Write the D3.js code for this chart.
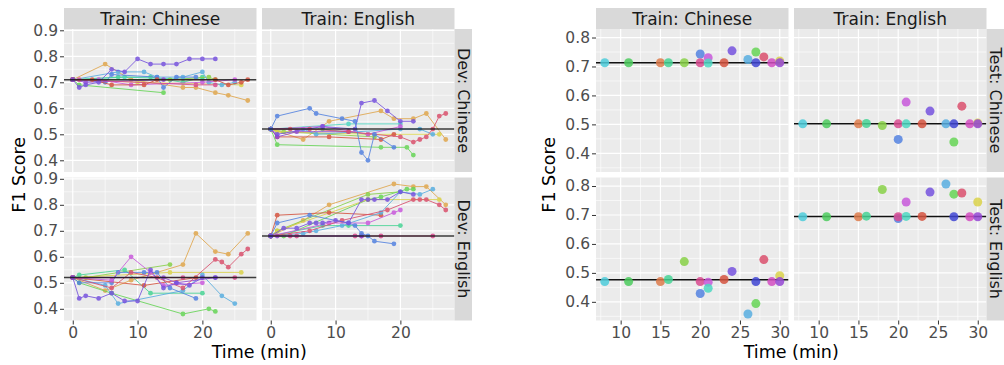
<!DOCTYPE html>
<html>
<head>
<meta charset="utf-8">
<script src="https://cdn.jsdelivr.net/npm/d3@7"></script>
<style>
  html, body { margin: 0; padding: 0; background: #fff; }
  svg { display: block; }
</style>
</head>
<body>
<svg id="chart" width="1004" height="365"></svg>
<script>
// ---- data ----
// participant ids, in drawing order (right-hand plot)
const participants = ['cyan', 'green', 'orange', 'mint', 'lime', 'blue', 'pink', 'orchid', 'teal',
  'red', 'purple', 'sky', 'green2', 'navy', 'crimson', 'magenta', 'yellow', 'violet'];
const totalTime = [8, 11, 15, 16, 18, 20, 20, 21, 21, 23, 24, 26, 27, 27, 28, 29, 30, 30];

// test F1 per participant
const testZhTrainZh = [.713, .713, .713, .713, .713, .743, .713, .730, .712, .713, .754, .724, .750, .713, .733, .713, .719, .713];
const testZhTrainEn = [.502, .502, .502, .503, .496, .448, .502, .577, .502, .502, .546, .502, .439, .502, .563, .502, .505, .502];
const testEnTrainZh = [.470, .470, .470, .477, .539, .429, .470, .468, .447, .477, .505, .358, .394, .470, .546, .470, .490, .470];
const testEnTrainEn = [.694, .694, .694, .696, .788, .688, .694, .745, .695, .695, .779, .807, .772, .694, .776, .694, .745, .694];
const testBaseline = [[0.713, 0.502], [0.476, 0.695]];

// dev F1 over time (min), one line per participant
const devZhTrainZh = [
  ['amber',   [[0, .71], [5, .77], [9, .71], [17, .68], [19, .68], [22, .66], [24, .65], [27, .63]]],
  ['green2',  [[0, .71], [1, .69], [14, .66]]],
  ['teal',    [[0, .71], [8, .72], [20, .71]]],
  ['mint',    [[0, .71], [7, .72], [12, .72], [17, .70], [20, .72]]],
  ['lime',    [[0, .71], [15, .71], [21, .72], [22, .71]]],
  ['yellow',  [[0, .71], [10, .70], [26, .69]]],
  ['sky',     [[0, .71], [7, .74], [11, .74], [13, .72], [17, .72], [20, .74], [21, .70], [23, .69], [25, .70]]],
  ['blue',    [[0, .71], [5, .70], [6, .73], [13, .72], [14, .68], [16, .72], [19, .72]]],
  ['violet',  [[0, .71], [2, .70], [14, .71]]],
  ['orchid',  [[0, .71], [4, .71], [9, .69], [20, .70], [25, .71]]],
  ['pink',    [[0, .71], [1, .71], [19, .69], [22, .69]]],
  ['red',     [[0, .71], [3, .71], [6, .69], [11, .69], [13, .71], [22, .71], [24, .69], [26, .70], [27, .71]]],
  ['purple',  [[0, .71], [1, .68], [2, .69], [4, .70], [6, .75], [8, .74], [10, .79], [12, .77], [14, .77], [16, .77], [18, .79], [20, .79], [22, .79]]]
];
const devZhTrainEn = [
  ['amber',   [[0, .52], [5, .48], [9, .55], [17, .59], [19, .56], [22, .56], [24, .58], [27, .48]]],
  ['green2',  [[0, .52], [1, .46], [17, .45], [21, .45], [22, .42]]],
  ['teal',    [[0, .52], [12, .54], [20, .54]]],
  ['mint',    [[0, .52], [8, .52], [15, .50]]],
  ['lime',    [[0, .52], [2, .51], [16, .49]]],
  ['yellow',  [[0, .52], [1, .51], [15, .50], [26, .50]]],
  ['sky',     [[0, .52], [5, .52], [7, .50], [20, .52], [23, .52], [25, .50]]],
  ['red',     [[0, .52], [1, .49], [9, .49], [17, .48], [19, .50]]],
  ['violet',  [[0, .52], [1, .49], [4, .51], [12, .51]]],
  ['orchid',  [[0, .52], [8, .53], [15, .50], [20, .53]]],
  ['crimson', [[0, .52], [3, .52], [6, .52], [12, .51], [20, .49], [22, .47], [23, .48], [24, .49], [25, .52], [26, .57], [27, .58]]],
  ['purple',  [[0, .52], [1, .50], [8, .53], [13, .52], [14, .62], [16, .63], [18, .59], [20, .55], [22, .55]]],
  ['blue',    [[0, .52], [1, .57], [6, .60], [7, .58], [11, .56], [13, .55], [14, .43], [15, .40], [16, .50], [19, .45]]]
];
const devEnTrainZh = [
  ['amber',   [[0, .52], [5, .47], [9, .51], [17, .57], [19, .69], [22, .62], [24, .61], [27, .69]]],
  ['green2',  [[0, .52], [1, .50], [6, .46], [17, .38], [21, .40], [22, .39]]],
  ['lime',    [[0, .52], [2, .52], [15, .57]]],
  ['mint',    [[0, .52], [1, .53], [8, .55], [12, .46], [20, .46]]],
  ['yellow',  [[0, .52], [15, .54], [26, .54]]],
  ['sky',     [[0, .52], [5, .49], [7, .42], [17, .47], [20, .53], [23, .45], [25, .42]]],
  ['blue',    [[0, .52], [1, .50], [6, .50], [7, .54], [11, .54], [13, .54], [15, .48], [19, .44]]],
  ['red',     [[0, .52], [11, .49], [19, .52]]],
  ['orchid',  [[0, .52], [6, .51], [9, .60], [12, .54], [14, .49], [20, .50]]],
  ['pink',    [[0, .52], [17, .52], [25, .52]]],
  ['violet',  [[0, .52], [14, .52], [16, .50], [22, .52]]],
  ['crimson', [[0, .52], [6, .48], [9, .54], [13, .52], [17, .48], [22, .59], [23, .58], [24, .56], [26, .61], [27, .63]]],
  ['purple',  [[0, .52], [1, .44], [2, .45], [4, .44], [6, .46], [8, .43], [10, .43], [12, .55], [14, .48], [16, .50], [18, .49], [20, .52], [22, .52]]]
];
const devEnTrainEn = [
  ['amber',   [[0, .68], [5, .74], [9, .80], [19, .88], [22, .87], [24, .87], [27, .80]]],
  ['lime',    [[0, .68], [1, .70], [15, .84], [20, .85]]],
  ['green2',  [[0, .68], [2, .68], [15, .82], [17, .83], [21, .86], [22, .86]]],
  ['yellow',  [[0, .68], [1, .70], [15, .82], [26, .82]]],
  ['red',     [[0, .68], [1, .76], [9, .77], [17, .76]]],
  ['mint',    [[0, .68], [8, .72], [12, .72], [20, .72]]],
  ['sky',     [[0, .68], [5, .69], [7, .70], [11, .72], [17, .77], [20, .85], [23, .84], [25, .86]]],
  ['orchid',  [[0, .68], [9, .73], [15, .73], [19, .77], [20, .78]]],
  ['pink',    [[0, .68], [3, .68], [4, .68], [13, .68], [14, .68], [17, .68], [25, .68]]],
  ['violet',  [[0, .68], [1, .68], [14, .68]]],
  ['crimson', [[0, .68], [6, .70], [11, .74], [18, .78], [22, .82], [23, .82], [24, .82], [26, .80], [27, .78]]],
  ['blue',    [[0, .68], [1, .73], [6, .76], [12, .73], [13, .72], [14, .69], [15, .68], [16, .66], [19, .65]]],
  ['purple',  [[0, .68], [2, .71], [4, .71], [6, .73], [7, .73], [8, .73], [10, .74], [12, .73], [14, .82], [15, .82], [16, .82], [18, .82], [20, .85], [22, .84]]]
];
const devBaseline = [[0.71, 0.52], [0.52, 0.68]];

const trainLabels = ['Train: Chinese', 'Train: English'];
const devLabels = ['Dev: Chinese', 'Dev: English'];
const testLabels = ['Test: Chinese', 'Test: English'];
const devTicksX = [0, 10, 20];
const devTicksY = [0.4, 0.5, 0.6, 0.7, 0.8, 0.9];
const testTicksX = [10, 15, 20, 25, 30];
const testTicksY = [0.4, 0.5, 0.6, 0.7, 0.8];

// ---- styling ----
const COLORS = {
  cyan: '#4DCCDB', green: '#4CCB5E', orange: '#DD7B4B', mint: '#47D495', lime: '#88D148',
  blue: '#5382E0', pink: '#D84A8F', orchid: '#C858DB', teal: '#4ED8C2', red: '#D5533F',
  purple: '#7652DE', sky: '#58AEE0', green2: '#66D556', navy: '#4147D4', crimson: '#DA506D',
  magenta: '#D34DC2', yellow: '#DAD24A', violet: '#9447D3', amber: '#E0A64C'
};
const FONT = '"DejaVu Sans", Verdana, sans-serif';
const PANEL_W = 192.5, PANEL_H = 143, GAP = 5.5, STRIP = 21, STRIP_R = 17.5;

const svg = d3.select('#chart');
let clipId = 0;

// ggplot-style range expansion (5% each side)
function expand(ext) {
  const pad = (ext[1] - ext[0]) * 0.05;
  return [ext[0] - pad, ext[1] + pad];
}
function midpoints(ticks) {
  const step = ticks[1] - ticks[0];
  return [ticks[0] - step / 2].concat(ticks.map(t => t + step / 2));
}

function facetGrid(o) {
  const x = d3.scaleLinear().domain(o.xDom).range([0, PANEL_W]);
  const y = d3.scaleLinear().domain(o.yDom).range([PANEL_H, 0]);
  const inX = v => v >= o.xDom[0] && v <= o.xDom[1];
  const inY = v => v >= o.yDom[0] && v <= o.yDom[1];
  const g = svg.append('g');

  for (let r = 0; r < 2; r++) {
    for (let c = 0; c < 2; c++) {
      const px = o.left + c * (PANEL_W + GAP);
      const py = o.top + r * (PANEL_H + GAP);
      const p = g.append('g').attr('transform', `translate(${px},${py})`);

      p.append('rect').attr('width', PANEL_W).attr('height', PANEL_H).attr('fill', '#EBEBEB');

      // grid
      const grid = p.append('g').attr('stroke', '#fff').attr('fill', 'none');
      midpoints(o.xTicks).filter(inX).forEach(v => grid.append('line')
        .attr('x1', x(v)).attr('x2', x(v)).attr('y1', 0).attr('y2', PANEL_H).attr('stroke-width', 0.6));
      midpoints(o.yTicks).filter(inY).forEach(v => grid.append('line')
        .attr('x1', 0).attr('x2', PANEL_W).attr('y1', y(v)).attr('y2', y(v)).attr('stroke-width', 0.6));
      o.xTicks.filter(inX).forEach(v => grid.append('line')
        .attr('x1', x(v)).attr('x2', x(v)).attr('y1', 0).attr('y2', PANEL_H).attr('stroke-width', 1.2));
      o.yTicks.filter(inY).forEach(v => grid.append('line')
        .attr('x1', 0).attr('x2', PANEL_W).attr('y1', y(v)).attr('y2', y(v)).attr('stroke-width', 1.2));

      const id = 'clip' + (clipId++);
      p.append('clipPath').attr('id', id).append('rect').attr('width', PANEL_W).attr('height', PANEL_H);
      const layer = p.append('g').attr('clip-path', `url(#${id})`);
      o.draw(layer, r, c, x, y);

      // axes
      if (c === 0) {
        const ax = p.append('g').call(d3.axisLeft(y).tickValues(o.yTicks).tickSize(4).tickPadding(2).tickFormat(d3.format('.1f')));
        styleAxis(ax);
      }
      if (r === 1) {
        const ax = p.append('g').attr('transform', `translate(0,${PANEL_H})`)
          .call(d3.axisBottom(x).tickValues(o.xTicks).tickSize(4).tickPadding(2).tickFormat(d3.format('d')));
        styleAxis(ax);
      }

      // strips
      if (r === 0) {
        p.append('rect').attr('y', -STRIP).attr('width', PANEL_W).attr('height', STRIP).attr('fill', '#D9D9D9');
        p.append('text').attr('x', PANEL_W / 2).attr('y', -STRIP / 2).attr('dy', '0.36em')
          .attr('text-anchor', 'middle').attr('fill', '#1A1A1A')
          .style('font', `17px ${FONT}`).text(o.colLabels[c]);
      }
      if (c === 1) {
        p.append('rect').attr('x', PANEL_W).attr('width', STRIP_R).attr('height', PANEL_H).attr('fill', '#D9D9D9');
        p.append('text').attr('transform', `translate(${PANEL_W + STRIP_R / 2},${PANEL_H / 2}) rotate(90)`)
          .attr('dy', '0.35em').attr('text-anchor', 'middle').attr('fill', '#1A1A1A')
          .style('font', `16px ${FONT}`).text(o.rowLabels[r]);
      }
    }
  }

  const midX = o.left + PANEL_W + GAP / 2;
  const midY = o.top + PANEL_H + GAP / 2;
  g.append('text').attr('x', midX).attr('y', 358).attr('text-anchor', 'middle')
    .attr('fill', '#000').style('font', `17.5px ${FONT}`).text(o.xTitle);
  g.append('text').attr('transform', `translate(${o.yTitleX},${midY}) rotate(-90)`)
    .attr('text-anchor', 'middle').attr('fill', '#000').style('font', `17.5px ${FONT}`).text(o.yTitle);
}

function styleAxis(ax) {
  ax.select('.domain').remove();
  ax.selectAll('.tick line').attr('stroke', '#333').attr('stroke-width', 1);
  ax.selectAll('.tick text').attr('fill', '#4D4D4D').style('font', `15.5px ${FONT}`);
}

// ---- left: dev F1 over time ----
const devPanels = [[devZhTrainZh, devZhTrainEn], [devEnTrainZh, devEnTrainEn]];
const devAll = devPanels.flat().flatMap(s => s.flatMap(d => d[1]));

facetGrid({
  left: 64, top: 29,
  xDom: expand(d3.extent(devAll, d => d[0])),
  yDom: expand(d3.extent(devAll, d => d[1])),
  xTicks: devTicksX, yTicks: devTicksY,
  colLabels: trainLabels, rowLabels: devLabels,
  xTitle: 'Time (min)', yTitle: 'F1 Score', yTitleX: 25,
  draw(layer, r, c, x, y) {
    const line = d3.line().x(d => x(d[0])).y(d => y(d[1]));
    devPanels[r][c].forEach(([name, pts]) => {
      const s = layer.append('g').attr('opacity', 0.85);
      s.append('path').attr('d', line(pts)).attr('fill', 'none')
        .attr('stroke', COLORS[name]).attr('stroke-width', 1);
      s.selectAll('circle').data(pts).join('circle')
        .attr('cx', d => x(d[0])).attr('cy', d => y(d[1])).attr('r', 2.4)
        .attr('fill', COLORS[name]);
    });
    layer.append('line').attr('x1', 0).attr('x2', PANEL_W)
      .attr('y1', y(devBaseline[r][c])).attr('y2', y(devBaseline[r][c]))
      .attr('stroke', '#111').attr('stroke-width', 1.5).attr('opacity', 0.8);
  }
});

// ---- right: test F1 vs total time ----
const testPanels = [[testZhTrainZh, testZhTrainEn], [testEnTrainZh, testEnTrainEn]];
const testAllY = testPanels.flat().flat();

facetGrid({
  left: 596, top: 29,
  xDom: expand(d3.extent(totalTime)),
  yDom: expand(d3.extent(testAllY)),
  xTicks: testTicksX, yTicks: testTicksY,
  colLabels: trainLabels, rowLabels: testLabels,
  xTitle: 'Time (min)', yTitle: 'F1 Score', yTitleX: 555,
  draw(layer, r, c, x, y) {
    layer.append('line').attr('x1', 0).attr('x2', PANEL_W)
      .attr('y1', y(testBaseline[r][c])).attr('y2', y(testBaseline[r][c]))
      .attr('stroke', '#111').attr('stroke-width', 1.5);
    layer.selectAll('circle').data(testPanels[r][c]).join('circle')
      .attr('cx', (d, i) => x(totalTime[i])).attr('cy', d => y(d)).attr('r', 4.5)
      .attr('fill', (d, i) => COLORS[participants[i]]).attr('opacity', 0.85);
  }
});
</script>
</body>
</html>
